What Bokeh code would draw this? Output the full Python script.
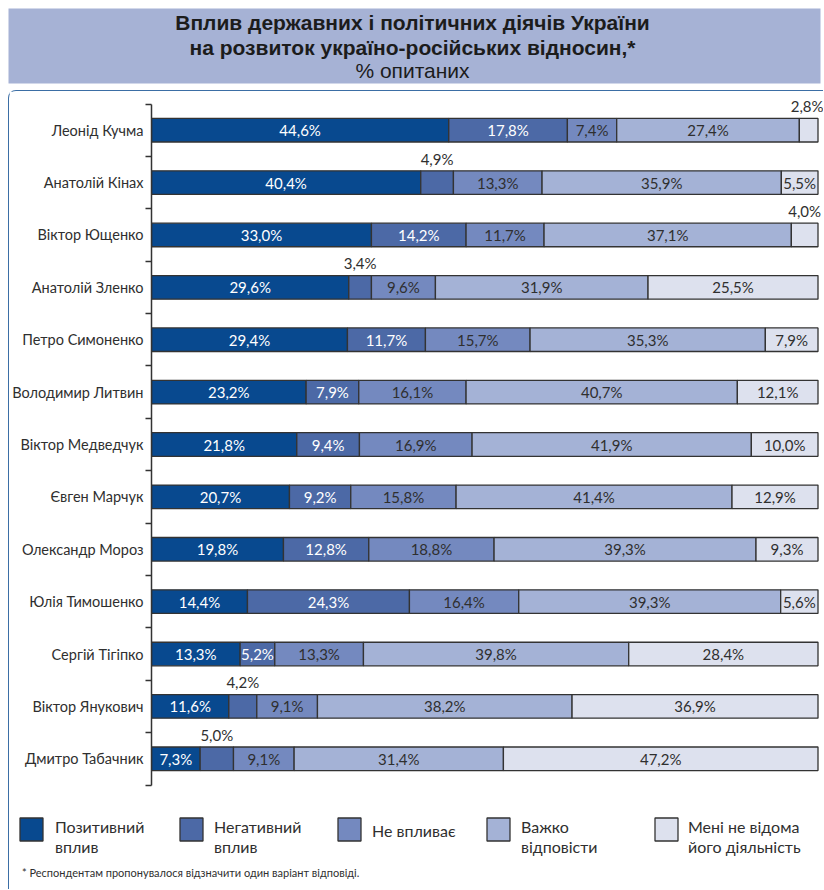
from bokeh.plotting import figure
from bokeh.layouts import column
from bokeh.models import Range1d, ColumnDataSource, LabelSet, FixedTicker
from bokeh.core.properties import value
from bokeh.embed import file_html
from bokeh.resources import INLINE

names = ["Леонід Кучма", "Анатолій Кінах", "Віктор Ющенко", "Анатолій Зленко", "Петро Симоненко",
         "Володимир Литвин", "Віктор Медведчук", "Євген Марчук", "Олександр Мороз", "Юлія Тимошенко",
         "Сергій Тігіпко", "Віктор Янукович", "Дмитро Табачник"]
positive = [44.6, 40.4, 33.0, 29.6, 29.4, 23.2, 21.8, 20.7, 19.8, 14.4, 13.3, 11.6, 7.3]
negative = [17.8, 4.9, 14.2, 3.4, 11.7, 7.9, 9.4, 9.2, 12.8, 24.3, 5.2, 4.2, 5.0]
no_impact = [7.4, 13.3, 11.7, 9.6, 15.7, 16.1, 16.9, 15.8, 18.8, 16.4, 13.3, 9.1, 9.1]
hard_to_say = [27.4, 35.9, 37.1, 31.9, 35.3, 40.7, 41.9, 41.4, 39.3, 39.3, 39.8, 38.2, 31.4]
unknown = [2.8, 5.5, 4.0, 25.5, 7.9, 12.1, 10.0, 12.9, 9.3, 5.6, 28.4, 36.9, 47.2]
series_labels = ["Позитивний\nвплив", "Негативний\nвплив", "Не впливає",
                 "Важко\nвідповісти", "Мені не відома\nйого діяльність"]
title_lines = ["Вплив державних і політичних діячів України",
               "на розвиток україно-російських відносин,*", "% опитаних"]
footnote = "* Респондентам пропонувалося відзначити один варіант відповіді."

colors = ["#08498f", "#4c69a6", "#7489bf", "#a4b2d6", "#dde1ee"]
text_colors = ["#ffffff", "#ffffff", "#2f2f2f", "#2f2f2f", "#2f2f2f"]
FONT = "Lato"
TFONT = "Liberation Sans"
INK = "#2f2f2f"
EDGE = "#333333"
BAND = "#a6b2d5"
BORDER = "#3b6ea5"


def no_align(f):
    if "frame_align" in f.properties():
        f.frame_align = False


# ---------------- title band ----------------
TW, TH = 824, 90
tf = figure(width=TW, height=TH, x_range=Range1d(0, TW - 12), y_range=Range1d(TH - 15, 0),
            output_backend="svg", toolbar_location=None, min_border_left=8, min_border_right=4,
            min_border_top=8, min_border_bottom=7)
tf.axis.visible = False
tf.grid.visible = False
tf.outline_line_color = None
tf.background_fill_color = BAND
tf.border_fill_color = "white"
no_align(tf)
for txt, yy, bold in zip(title_lines, [13.5, 38.5, 62], [True, True, False]):
    tf.text(x=[404], y=[yy], text=[txt], text_align="center", text_baseline="middle",
            text_font=value(TFONT), text_font_size="21px" if bold else "21px",
            text_font_style="bold" if bold else "normal", text_color="#1c1c1c")

# ---------------- main chart ----------------
series = [positive, negative, no_impact, hard_to_say, unknown]
keys = ["s0", "s1", "s2", "s3", "s4"]
n = len(names)
centers = [(n - 1 - i) + 0.5 for i in range(n)]
bounds = list(range(n + 1))

MW, MH = 814, 708
ML, MR = 142, 0
row_px = 681 / n
top_pad = 12.5
bot_pad = MH - top_pad - 681
y_lo, y_hi = -bot_pad / row_px, n + top_pad / row_px
x_hi = 100 * (MW - ML - MR) / (808.5 - ML)

p = figure(width=MW, height=MH, y_range=Range1d(y_lo, y_hi), x_range=Range1d(0, x_hi),
           output_backend="svg", toolbar_location=None,
           min_border_left=ML, min_border_right=MR, min_border_top=0, min_border_bottom=0)
p.xaxis.visible = False
p.grid.visible = False
p.outline_line_color = None
p.border_fill_color = "white"
no_align(p)

ya = p.yaxis[0]
ya.ticker = FixedTicker(ticks=centers, minor_ticks=bounds)
ya.major_label_overrides = {c: nm for c, nm in zip(centers, names)}
ya.bounds = (0, n)
ya.axis_line_color = EDGE
ya.axis_line_width = 1.5
ya.major_tick_line_color = None
ya.major_tick_out = 0
ya.major_tick_in = 0
ya.minor_tick_line_color = EDGE
ya.minor_tick_line_width = 1.5
ya.minor_tick_out = 6
ya.minor_tick_in = 0
ya.major_label_text_font = FONT
ya.major_label_text_font_size = "14.5px"
ya.major_label_text_color = INK
ya.major_label_standoff = 2

data = {"pos": centers}
for k, s in zip(keys, series):
    data[k] = s
src = ColumnDataSource(data)
p.hbar_stack(keys, y="pos", height=0.45, color=colors, line_color=EDGE, line_width=1.3,
             source=src)

ins = {"x": [], "y": [], "t": [], "c": []}
out = {"x": [], "y": [], "t": [], "c": []}
for i, rc in enumerate(centers):
    left = 0.0
    for j, s in enumerate(series):
        v = s[i]
        cx = left + v / 2
        left += v
        t = f"{v:.1f}".replace(".", ",") + "%"
        if v > 5.0:
            ins["x"].append(cx); ins["y"].append(rc); ins["t"].append(t); ins["c"].append(text_colors[j])
        else:
            out["x"].append(min(cx, x_hi - 2.45)); out["y"].append(rc + 0.225 + 0.06)
            out["t"].append(t); out["c"].append(INK)
p.add_layout(LabelSet(x="x", y="y", text="t", text_color="c", source=ColumnDataSource(ins),
                      text_align="center", text_baseline="middle",
                      text_font=value(FONT), text_font_size="15px"))
p.add_layout(LabelSet(x="x", y="y", text="t", text_color="c", source=ColumnDataSource(out),
                      text_align="center", text_baseline="bottom",
                      text_font=value(FONT), text_font_size="15px"))

# ---------------- legend + footnote ----------------
LW, LH = 814, 90
lf = figure(width=LW, height=LH, x_range=Range1d(0, LW), y_range=Range1d(LH, 0),
            output_backend="svg", toolbar_location=None, min_border_left=0, min_border_right=0,
            min_border_top=0, min_border_bottom=0)
lf.axis.visible = False
lf.grid.visible = False
lf.outline_line_color = None
lf.border_fill_color = "white"
no_align(lf)

sq_x = [10.5, 170.5, 328.5, 477.5, 645.5]
tx_x = [45.5, 204.5, 362.5, 511.5, 678.5]
lf.quad(left=sq_x, right=[x + 23 for x in sq_x], top=[18.5] * 5, bottom=[41.5] * 5,
        fill_color=colors, line_color=EDGE, line_width=1.3)
for i, lab in enumerate(series_labels):
    lines = lab.split("\n")
    ys = [26.5, 46.5] if len(lines) == 2 else [30.5]
    lf.text(x=[tx_x[i]] * len(lines), y=ys, text=lines, text_align="left",
            text_baseline="middle", text_font=value(FONT), text_font_size="16px", text_color=INK)
lf.text(x=[12.5], y=[72.5], text=[footnote], text_align="left", text_baseline="middle",
        text_font=value(FONT), text_font_size="11px", text_color=INK)

framed = column(p, lf, spacing=0,
                styles={"margin-left": "8px",
                        "border-top": f"1.5px solid {BORDER}", "border-left": f"1.5px solid {BORDER}",
                        "border-top-left-radius": "8px"})
layout = column(tf, framed, spacing=0)

open("out.html", "w").write(file_html(layout, INLINE))
